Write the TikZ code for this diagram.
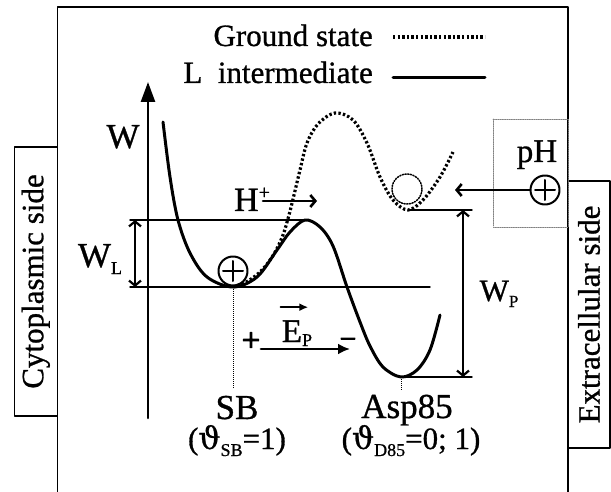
\documentclass[tikz,border=0pt]{standalone}
\usepackage{fontspec}
\setmainfont{Liberation Serif}[FakeBold=0.9]
\newfontfamily\thetafont{DejaVu Serif}[FakeBold=0.9]
\newfontfamily\signfont{Liberation Serif}[FakeBold=3]
\usetikzlibrary{arrows.meta}
\newcommand\lowidx[3][5pt]{\raisebox{-#1}{\fontsize{#2}{#2}\selectfont #3}}
\tikzset{
  every picture/.style={line join=round, line cap=round, >=Latex},
  lvl/.style={line width=1.4pt},
  lstate/.style={line width=3pt},
  gstate/.style={line width=3.2pt, line cap=butt, dash pattern=on 2.4pt off 2.2pt},
  guide/.style={line width=1pt, line cap=butt, dash pattern=on 1pt off 1pt},
  push/.style={line width=2.6pt, -{Straight Barb[length=5pt,width=12pt]}},
  field/.style={line width=2.8pt, -{Latex[length=12pt,width=11pt]}},
  span/.style={line width=2.2pt, {Straight Barb[length=5pt,width=12pt]}-{Straight Barb[length=5pt,width=12pt]}},
  lbl/.style={inner sep=0pt, anchor=base},
  sidebox/.style={draw, line width=1.2pt, rotate=90, inner sep=0pt, font=\fontsize{31}{33}\selectfont},
  charge/.style={circle, draw, line width=2pt, minimum size=29pt, inner sep=0pt,
    path picture={\draw[line width=2pt]
      ([xshift=-10pt]path picture bounding box.center) -- ([xshift=10pt]path picture bounding box.center)
      ([yshift=-10pt]path picture bounding box.center) -- ([yshift=10pt]path picture bounding box.center);}},
}

\begin{document}
\begin{tikzpicture}[x=1pt,y=-1pt]
\useasboundingbox (0,0) rectangle (611,492);
\draw[lvl] (57.5,500) |- (568,7) -- (568,500);
\node[sidebox, minimum width=269pt, minimum height=43pt] (cyto) at (35.8,281.5) {Cytoplasmic side};
\node[sidebox, minimum width=267pt, minimum height=42pt] (extra) at (589,314.5) {Extracellular side};
\draw[gray, line width=0.8pt, densely dotted] (493,119) rectangle (568,227);

\node[lbl, anchor=base east, font=\fontsize{31}{32}\selectfont] (gs) at (373,46) {Ground state};
\node[lbl, anchor=base east, font=\fontsize{31}{32}\selectfont] (li) at (373,83) {L\ \ intermediate};
\draw[gstate] (393,37) -- (485,37);
\draw[lstate] (393,78) -- (485,78);

\coordinate (wo) at (148,418);
\coordinate (wtip) at (148,82);
\draw[line width=2.6pt, -{Triangle[length=20pt,width=14pt]}] (wo) -- (wtip);
\node[lbl, font=\fontsize{35}{36}\selectfont] (w) at (123,148) {W};

\coordinate (sbmin) at (233,287);
\coordinate (lmax) at (305,220);
\coordinate (dmin) at (401,377);
\coordinate (gmin) at (408,210);
\draw[lvl] (130,220) -- (308,220);
\draw[lvl] (130,287) -- (430,287);
\draw[lvl] (gmin) -- (472,210);
\draw[lvl] (dmin) -- (472,377);
\draw[span] (135,220) -- (135,287);
\draw[span] (463,210) -- (463,377);
\node[lbl, font=\fontsize{35}{36}\selectfont] (wl) at (100,267) {W\lowidx[7pt]{18}{L}};
\node[lbl, font=\fontsize{31}{32}\selectfont] (wp) at (499,301) {W\lowidx[6pt]{17}{P}};

\draw[gstate] plot[smooth, tension=0.55] coordinates {(sbmin) (248,281) (262,270) (274,254) (283,235)
  (289,215) (294,195) (300,170) (307,143) (318,124) (335,113) (353,120) (367,143) (380,177)
  (393,200) (gmin) (423,200) (440,177) (453,152)};
\draw[lstate] plot[smooth, tension=0.55] coordinates {(163,122) (170,177) (178,220) (190,253) (207,277)
  (sbmin) (257,277) (277,250) (290,232) (lmax) (320,227) (333,246) (347,287) (360,322)
  (370,346) (383,367) (dmin) (417,370) (430,350) (440,315)};
\draw[guide] (sbmin) -- (233,388);
\draw[guide] (dmin) -- (401,391);

\node[charge] (sbq) at (233,271) {};
\node[circle, draw, line width=1.5pt, dash pattern=on 1.3pt off 1.4pt, minimum size=30pt] (gq) at (407,189) {};

\node[lbl, font=\fontsize{34}{35}\selectfont] (hp) at (252,211) {H\raisebox{12pt}{\fontsize{20}{20}\selectfont +}};
\coordinate (hend) at (317,201);
\draw[push] (263,201) -- (hend);

\node[lbl, font=\fontsize{33}{34}\selectfont] (ep) at (297,342) {E\lowidx[4pt]{18}{P}};
\draw[line width=2pt, -{Latex[length=9pt,width=8pt]}] ([xshift=-1pt,yshift=13pt]ep.north west) -- ([xshift=-4pt,yshift=13pt]ep.north east);
\node[lbl, font=\signfont\fontsize{33}{34}\selectfont] (pl) at (251,351) {+};
\node[lbl, font=\signfont\fontsize{27}{28}\selectfont] (mi) at (348,345) {\textendash};
\coordinate (fstart) at (261,349);
\coordinate (fend) at (350,349);
\draw[field] (fstart) -- (fend);

\node[lbl, font=\fontsize{33}{34}\selectfont] (ph) at (537,162) {pH};
\node[charge] (phq) at (545,190) {};
\coordinate (phend) at (455,190);
\draw[push] (phq.west) -- (phend);

\node[lbl, font=\fontsize{35}{36}\selectfont] (sb) at (237,419) {SB};
\node[lbl, font=\fontsize{35}{36}\selectfont] (asp) at (407,418) {Asp85};
\node[lbl, font=\fontsize{31}{32}\selectfont] (sbocc) at (237,449) {({\thetafont ϑ}\lowidx[7pt]{18}{SB}=1)};
\node[lbl, font=\fontsize{31}{32}\selectfont] (docc) at (411,449) {({\thetafont ϑ}\lowidx[7pt]{18}{D85}=0; 1)};
\end{tikzpicture}
\end{document}
